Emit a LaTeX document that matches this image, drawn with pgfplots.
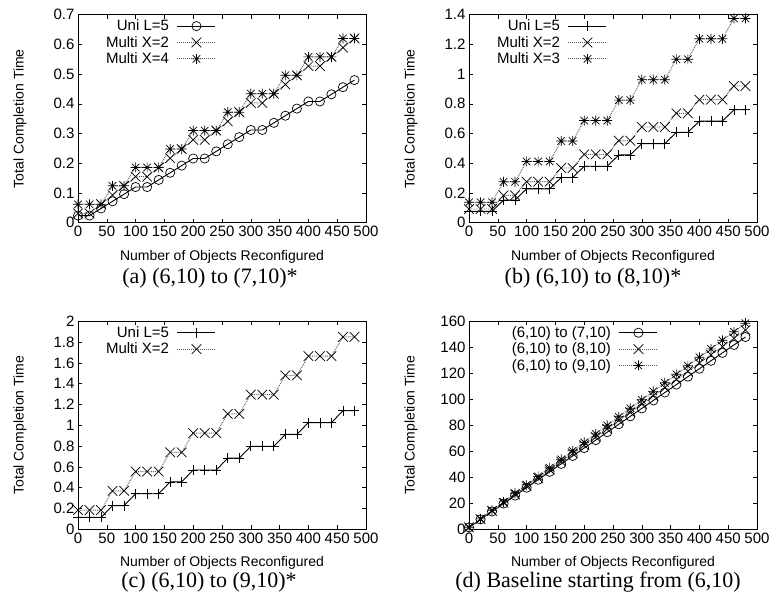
\documentclass[border=0pt]{standalone}
\usepackage{fontspec}
\setmainfont{Liberation Sans}
\newfontfamily\capfont{Liberation Serif}
\usepackage{pgfplots}
\usepackage{pgfplotstable}
\pgfplotsset{compat=1.18}

% gnuplot style "*" point: plus and cross on top of each other
\pgfdeclareplotmark{gpstar}{%
  \pgfpathmoveto{\pgfqpoint{-\pgfplotmarksize}{0pt}}%
  \pgfpathlineto{\pgfqpoint{\pgfplotmarksize}{0pt}}%
  \pgfpathmoveto{\pgfqpoint{0pt}{-\pgfplotmarksize}}%
  \pgfpathlineto{\pgfqpoint{0pt}{\pgfplotmarksize}}%
  \pgfpathmoveto{\pgfqpoint{-.75\pgfplotmarksize}{-.75\pgfplotmarksize}}%
  \pgfpathlineto{\pgfqpoint{.75\pgfplotmarksize}{.75\pgfplotmarksize}}%
  \pgfpathmoveto{\pgfqpoint{-.75\pgfplotmarksize}{.75\pgfplotmarksize}}%
  \pgfpathlineto{\pgfqpoint{.75\pgfplotmarksize}{-.75\pgfplotmarksize}}%
  \pgfusepathqstroke}

\pgfplotsset{
  gp/.style={
    scale only axis, width=288pt, height=208pt,
    xmin=0, xmax=500, xtick={0,50,...,500},
    tick align=inside, major tick length=4pt,
    tick style={black, line width=0.6pt},
    axis line style={line width=0.8pt},
    clip=false,
    font=\fontsize{14}{17}\selectfont,
    tick label style={font=\fontsize{15}{18}\selectfont},
    /pgf/number format/assume math mode=true,
    xlabel={Number of Objects Reconfigured},
    ylabel={Total Completion Time},
    xlabel style={at={(axis description cs:0.5,-0.163)}, anchor=center},
    ylabel style={at={(axis description cs:-0.201,0.5)}, anchor=center},
    legend style={draw=none, fill=none, at={(axis description cs:0.49,0.995)},
      anchor=north east, row sep=0pt, font=\fontsize{15}{18}\selectfont},
    legend cell align=right,
    legend plot pos=right,
    legend image code/.code={%
      \path (0pt,0pt);
      \draw[mark repeat=2, mark phase=2, ##1]
        plot coordinates {(6pt,0pt) (25pt,0pt) (44pt,0pt)};},
  },
  uni/.style={black, solid, line width=0.9pt, mark options={solid, line width=0.7pt}},
  multi/.style={black!65, densely dotted, line width=0.9pt,
    mark options={solid, black, line width=0.7pt}},
}

\pgfplotstableread{
x uni m2 m4
0 0.024 0.031 0.062
20 0.024 0.031 0.062
40 0.048 0.062 0.062
60 0.072 0.093 0.124
80 0.096 0.124 0.124
100 0.120 0.155 0.186
120 0.120 0.155 0.186
140 0.144 0.186 0.186
160 0.168 0.217 0.248
180 0.192 0.248 0.248
200 0.216 0.279 0.310
220 0.216 0.279 0.310
240 0.240 0.310 0.310
260 0.264 0.341 0.372
280 0.288 0.372 0.372
300 0.312 0.403 0.434
320 0.312 0.403 0.434
340 0.336 0.434 0.434
360 0.360 0.465 0.496
380 0.384 0.496 0.496
400 0.408 0.527 0.558
420 0.408 0.527 0.558
440 0.432 0.558 0.558
460 0.456 0.589 0.620
480 0.480 0.620 0.620
}\tabA

\pgfplotstableread{
x uni m2 m3
0 0.076 0.092 0.1375
20 0.076 0.092 0.1375
40 0.076 0.092 0.1375
60 0.152 0.184 0.275
80 0.152 0.184 0.275
100 0.228 0.276 0.4125
120 0.228 0.276 0.4125
140 0.228 0.276 0.4125
160 0.304 0.368 0.55
180 0.304 0.368 0.55
200 0.380 0.460 0.6875
220 0.380 0.460 0.6875
240 0.380 0.460 0.6875
260 0.456 0.552 0.825
280 0.456 0.552 0.825
300 0.532 0.644 0.9625
320 0.532 0.644 0.9625
340 0.532 0.644 0.9625
360 0.608 0.736 1.1
380 0.608 0.736 1.1
400 0.684 0.828 1.2375
420 0.684 0.828 1.2375
440 0.684 0.828 1.2375
460 0.760 0.920 1.375
480 0.760 0.920 1.375
}\tabB

\pgfplotstableread{
x uni m2
0 0.114 0.185
20 0.114 0.185
40 0.114 0.185
60 0.228 0.370
80 0.228 0.370
100 0.342 0.555
120 0.342 0.555
140 0.342 0.555
160 0.456 0.740
180 0.456 0.740
200 0.570 0.925
220 0.570 0.925
240 0.570 0.925
260 0.684 1.110
280 0.684 1.110
300 0.798 1.295
320 0.798 1.295
340 0.798 1.295
360 0.912 1.480
380 0.912 1.480
400 1.026 1.665
420 1.026 1.665
440 1.026 1.665
460 1.140 1.850
480 1.140 1.850
}\tabC

\pgfplotstableread{
x s7 s8 s9
0 1.5 1.5 1.5
20 7.6 7.8 8.0
40 13.7 14.1 14.6
60 19.8 20.5 21.1
80 25.9 26.8 27.7
100 32.0 33.1 34.2
120 38.1 39.4 40.7
140 44.2 45.7 47.3
160 50.3 52.1 53.8
180 56.4 58.4 60.4
200 62.5 64.7 66.9
220 68.6 71.0 73.4
240 74.7 77.3 80.0
260 80.8 83.7 86.5
280 86.9 90.0 93.1
300 93.0 96.3 99.6
320 99.1 102.6 106.1
340 105.2 108.9 112.7
360 111.3 115.3 119.2
380 117.4 121.6 125.8
400 123.5 127.9 132.3
420 129.6 134.2 138.8
440 135.7 140.5 145.4
460 141.8 146.9 151.9
480 147.9 153.2 158.5
}\tabD

\begin{document}
\begin{tikzpicture}
\useasboundingbox (0,0) rectangle (770pt,609pt);

% (a)
\begin{axis}[gp, at={(78pt,386.3pt)}, anchor=south west,
  ymin=0, ymax=0.7, ytick={0,0.1,0.2,0.3,0.4,0.5,0.6,0.7}]
\addplot[uni, mark=o, mark size=4.6pt] table[x=x, y=uni] {\tabA};
\addlegendentry{Uni L=5}
\addplot[multi, mark=x, mark size=6.8pt] table[x=x, y=m2] {\tabA};
\addlegendentry{Multi X=2}
\addplot[multi, mark=gpstar, mark size=5pt] table[x=x, y=m4] {\tabA};
\addlegendentry{Multi X=4}
\end{axis}

% (b)
\begin{axis}[gp, at={(469pt,386.3pt)}, anchor=south west,
  ymin=0, ymax=1.4, ytick={0,0.2,0.4,0.6,0.8,1,1.2,1.4}]
\addplot[uni, mark=+, mark size=5pt] table[x=x, y=uni] {\tabB};
\addlegendentry{Uni L=5}
\addplot[multi, mark=x, mark size=6.8pt] table[x=x, y=m2] {\tabB};
\addlegendentry{Multi X=2}
\addplot[multi, mark=gpstar, mark size=5pt] table[x=x, y=m3] {\tabB};
\addlegendentry{Multi X=3}
\end{axis}

% (c)
\begin{axis}[gp, at={(78pt,79.7pt)}, anchor=south west,
  ymin=0, ymax=2, ytick={0,0.2,0.4,0.6,0.8,1,1.2,1.4,1.6,1.8,2}]
\addplot[uni, mark=+, mark size=5pt] table[x=x, y=uni] {\tabC};
\addlegendentry{Uni L=5}
\addplot[multi, mark=x, mark size=6.8pt] table[x=x, y=m2] {\tabC};
\addlegendentry{Multi X=2}
\end{axis}

% (d)
\begin{axis}[gp, at={(469pt,79.7pt)}, anchor=south west,
  ymin=0, ymax=160, ytick={0,20,40,60,80,100,120,140,160},
  legend style={at={(axis description cs:0.667,0.995)}}]
\addplot[uni, mark=o, mark size=4.6pt] table[x=x, y=s7] {\tabD};
\addlegendentry{(6,10) to (7,10)}
\addplot[multi, mark=x, mark size=6.8pt] table[x=x, y=s8] {\tabD};
\addlegendentry{(6,10) to (8,10)}
\addplot[multi, mark=gpstar, mark size=5pt] table[x=x, y=s9] {\tabD};
\addlegendentry{(6,10) to (9,10)}
\end{axis}

\begin{scope}[every node/.style={inner sep=0pt, font=\capfont\fontsize{22}{26}\selectfont}]
\node at (210pt,331pt) {(a) (6,10) to (7,10)*};
\node at (593pt,331pt) {(b) (6,10) to (8,10)*};
\node at (209pt,27pt) {(c) (6,10) to (9,10)*};
\node at (598pt,27pt) {(d) Baseline starting from (6,10)};
\end{scope}
\end{tikzpicture}
\end{document}
